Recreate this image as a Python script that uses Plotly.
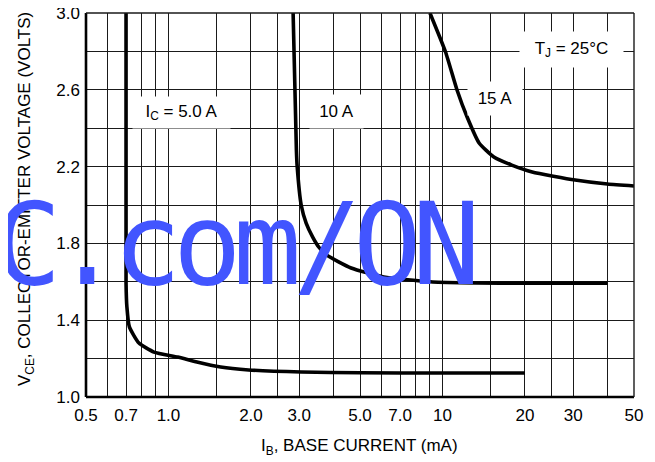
import plotly.graph_objects as go

# ---- data (IB in mA, VCE in volts) ----
ib_5A = [0.70, 0.70, 0.705, 0.72, 0.78, 0.885, 1.08, 1.27, 1.55, 1.96, 3.05, 5.0, 10.0, 20.0]
vce_5A = [3.0, 1.594, 1.469, 1.365, 1.281, 1.234, 1.208, 1.182, 1.156, 1.141, 1.130, 1.126, 1.125, 1.125]

ib_10A = [2.85, 2.93, 2.95, 3.05, 3.18, 3.36, 3.54, 3.77, 4.64, 6.1, 9.2, 13.2, 20.0, 40.0]
vce_10A = [3.0, 2.286, 2.198, 2.0, 1.906, 1.833, 1.78, 1.74, 1.672, 1.625, 1.599, 1.594, 1.593, 1.593]

ib_15A = [9.0, 10.26, 11.3, 12.3, 13.6, 15.4, 17.9, 21.25, 30.5, 40.0, 50.0]
vce_15A = [3.0, 2.797, 2.599, 2.458, 2.323, 2.25, 2.208, 2.172, 2.13, 2.109, 2.099]

x_grid = [0.5, 0.6, 0.7, 0.8, 0.9, 1.0, 1.5, 2, 2.5, 3, 4, 5, 6, 7, 8, 9, 10, 15, 20, 25, 30, 40, 50]
x_labels = {0.5: "0.5", 0.7: "0.7", 1.0: "1.0", 2: "2.0", 3: "3.0", 5: "5.0", 7: "7.0",
            10: "10", 20: "20", 30: "30", 50: "50"}
y_grid = [1.0, 1.2, 1.4, 1.6, 1.8, 2.0, 2.2, 2.4, 2.6, 2.8, 3.0]
y_labels = {1.0: "1.0", 1.4: "1.4", 1.8: "1.8", 2.2: "2.2", 2.6: "2.6", 3.0: "3.0"}

curve_labels = ["I<sub>C</sub> = 5.0 A", "10 A", "15 A", "T<sub>J</sub> = 25°C"]
watermark = "C.com/ON"

# page body has an 8 px margin, so the figure is offset by 8 px
OFF = 8
W, H = 655 - OFF, 462 - OFF
L, R, T, B = 86 - OFF, 21, 13 - OFF, 65
PW, PH = 548, 384
PLOT_L, PLOT_B = 86, 397  # page pixels

def px(x):
    return (x - PLOT_L) / PW

def py(y):
    return (PLOT_B - y) / PH

fig = go.Figure()
for xs, ys in [(ib_5A, vce_5A), (ib_10A, vce_10A), (ib_15A, vce_15A)]:
    fig.add_trace(go.Scatter(x=xs, y=ys, mode="lines",
                             line=dict(color="black", width=3.6, shape="spline", smoothing=0.5),
                             showlegend=False, hoverinfo="skip"))

tick_font = dict(family="Liberation Sans, Arial, sans-serif", size=17, color="black")
fig.update_xaxes(type="log", range=[-0.30103, 1.69897], tickmode="array",
                 tickvals=x_grid, ticktext=[x_labels.get(v, "") for v in x_grid],
                 showgrid=True, gridcolor="#1a1a1a", gridwidth=1.3, automargin=False,
                 showline=False, zeroline=False, ticks="", tickfont=tick_font,
                 ticklabelstandoff=6, ticklabeloverflow="allow")
fig.update_yaxes(range=[1.0, 3.0], tickmode="array",
                 tickvals=y_grid, ticktext=[y_labels.get(v, "") for v in y_grid],
                 showgrid=True, gridcolor="#1a1a1a", gridwidth=1.3, automargin=False,
                 showline=False, zeroline=False, ticks="", tickfont=tick_font,
                 ticklabelstandoff=5, ticklabeloverflow="allow")

# frame
fig.add_shape(type="line", xref="paper", yref="paper", x0=0, x1=0, y0=0, y1=1,
              line=dict(color="black", width=2.6))
fig.add_shape(type="line", xref="paper", yref="paper", x0=0, x1=1, y0=0, y1=0,
              line=dict(color="black", width=2.6))
fig.add_shape(type="line", xref="paper", yref="paper", x0=0, x1=1, y0=1, y1=1,
              line=dict(color="#1a1a1a", width=1.4))
fig.add_shape(type="line", xref="paper", yref="paper", x0=1, x1=1, y0=0, y1=1,
              line=dict(color="#1a1a1a", width=1.4))

lab_font = dict(family="Liberation Sans, Arial, sans-serif", size=17, color="black")
boxes = [(181.5, 112.5, 97, 31), (336.5, 111.5, 53, 33), (495, 98.5, 54, 33), (571.5, 49.5, 103, 35)]
for text, (cx, cy, bw, bh) in zip(curve_labels, boxes):
    fig.add_annotation(text=text, xref="paper", yref="paper", x=px(cx), y=py(cy),
                       xanchor="center", yanchor="middle", showarrow=False,
                       bgcolor="white", width=bw, height=bh, borderpad=0, font=lab_font)

title_font = dict(family="Liberation Sans, Arial, sans-serif", size=17, color="black")
fig.add_annotation(text="I<sub>B</sub>, BASE CURRENT (mA)", xref="paper", yref="paper",
                   x=px(359), y=py(447), xanchor="center", yanchor="middle",
                   showarrow=False, font=title_font)
fig.add_annotation(text="V<sub>CE</sub>, COLLECTOR-EMITTER VOLTAGE (VOLTS)", xref="paper", yref="paper",
                   x=px(26), y=py(199), xanchor="center", yanchor="middle", textangle=-90,
                   showarrow=False, font=title_font)

# watermark, one character per 60 px cell
wm_font = dict(family="DejaVu Sans Mono, monospace", size=114, color="#4255ff")
for i, ch in enumerate(watermark):
    fig.add_annotation(text=ch, xref="paper", yref="paper", x=px(27 + 60 * i), y=py(244),
                       xanchor="center", yanchor="middle", showarrow=False, font=wm_font)

fig.update_layout(width=W, height=H, margin=dict(l=L, r=R, t=T, b=B, autoexpand=False),
                  paper_bgcolor="white", plot_bgcolor="white", showlegend=False)

fig.write_html("out.html")
